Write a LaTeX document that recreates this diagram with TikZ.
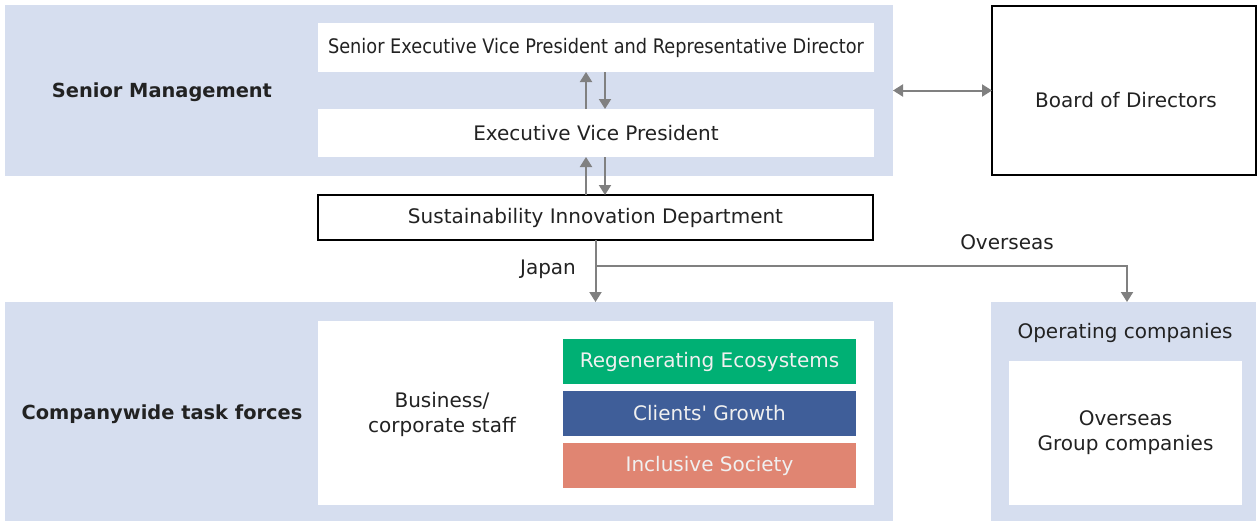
\documentclass[tikz,border=0pt]{standalone}
\usepackage{fontspec}
\setmainfont{DejaVu Sans}
\usetikzlibrary{arrows.meta}
\definecolor{band}{RGB}{214,222,239}
\definecolor{arrgray}{RGB}{128,128,128}
\definecolor{txt}{RGB}{34,34,34}
\definecolor{regen}{RGB}{0,176,116}
\definecolor{clients}{RGB}{63,94,153}
\definecolor{incl}{RGB}{224,133,114}
\tikzset{
  x=1pt, y=1pt,
  base/.style={inner sep=0pt, outer sep=0pt, text=txt, font=\fontsize{20}{25}\selectfont, align=center},
  bandbox/.style={base, fill=band, draw=none},
  whitebox/.style={base, fill=white, draw=none},
  framebox/.style={base, fill=white, draw=black, line width=1.5pt},
  colbox/.style={base, draw=none, text=white!94!black, minimum width=293pt, minimum height=45pt},
  arr/.style={draw=arrgray, line width=2pt, -{Triangle[length=10pt,width=12pt]}},
  arrtwo/.style={draw=arrgray, line width=2pt, {Triangle[length=10pt,width=12pt]}-{Triangle[length=10pt,width=12pt]}},
  lbl/.style={base},
  boldlbl/.style={base, font=\fontsize{19.4}{24}\selectfont\bfseries}
}
\begin{document}
\begin{tikzpicture}
\useasboundingbox[fill=white] (0,0) rectangle (1258,-522);
% bands
\node[bandbox, minimum width=888pt, minimum height=171pt] (smband) at (449,-90.5) {};
\node[bandbox, minimum width=888pt, minimum height=219pt] (ctband) at (449,-411.5) {};
\node[bandbox, minimum width=265pt, minimum height=219pt] (opband) at (1123.5,-411.5) {};
% senior management
\node[boldlbl] (smlbl) at (162,-92) {Senior Management};
\node[whitebox, minimum width=556pt, minimum height=49pt] (sevp) at (596,-47.5)
  {\resizebox{536pt}{\height}{Senior Executive Vice President and Representative Director}};
\node[whitebox, minimum width=556pt, minimum height=48pt] (evp) at (596,-133) {Executive Vice President};
\node[framebox, minimum width=555pt, minimum height=45pt] (sid) at (595.5,-217.5) {Sustainability Innovation Department};
\node[framebox, minimum width=264pt, minimum height=169pt] (bod) at (1124,-90.5) {};
\node[lbl] (bodlbl) at (1126,-100) {Board of Directors};
% arrows
\draw[arr] ([xshift=-10pt]evp.north) -- ([xshift=-10pt]sevp.south);
\draw[arr] ([xshift=9pt]sevp.south) -- ([xshift=9pt]evp.north);
\draw[arr] ([xshift=-9.5pt]sid.north) -- ([xshift=-10pt]evp.south);
\draw[arr] ([xshift=9pt]evp.south) -- ([xshift=9.5pt]sid.north);
\draw[arrtwo] (smband.east) -- (bod.west);
\coordinate (junc) at (595.5,-266);
\coordinate (optop) at (1127,-302);
\draw[arr] (sid.south) -- (ctband.north -| sid.south);
\draw[arr] (junc) -| (optop);
\node[lbl] (japan) at (548,-269) {Japan};
\node[lbl] (overseas) at (1007,-242) {Overseas};
% companywide
\node[boldlbl] (ctlbl) at (162,-414) {Companywide task forces};
\node[whitebox, minimum width=556pt, minimum height=184pt] (ctinner) at (596,-413) {};
\node[lbl] (bcs) at (442,-414) {Business/\\corporate staff};
\node[colbox, fill=regen] (rg) at (709.5,-361.5) {Regenerating Ecosystems};
\node[colbox, fill=clients] (cg) at (709.5,-413.5) {Clients\textquotesingle\ Growth};
\node[colbox, fill=incl] (is) at (709.5,-465.5) {Inclusive Society};
% operating companies
\node[lbl] (oplbl) at (1125,-333) {Operating companies};
\node[whitebox, minimum width=233pt, minimum height=144pt] (opinner) at (1125.5,-433) {Overseas\\Group companies};
\end{tikzpicture}
\end{document}
